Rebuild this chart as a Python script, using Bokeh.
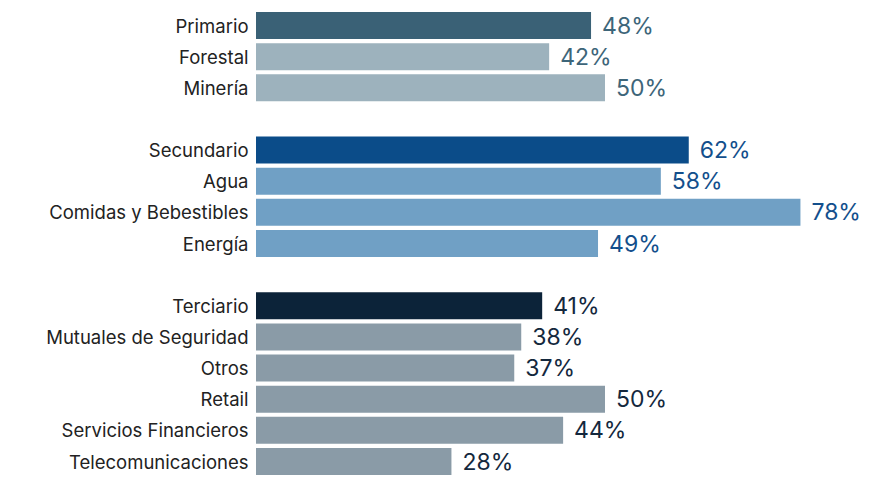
from bokeh.plotting import figure
from bokeh.models import ColumnDataSource, Range1d
from bokeh.embed import file_html
from bokeh.resources import INLINE
from bokeh.core.properties import value

# Data
categories = ["Primario", "Forestal", "Minería",
              "Secundario", "Agua", "Comidas y Bebestibles", "Energía",
              "Terciario", "Mutuales de Seguridad", "Otros", "Retail",
              "Servicios Financieros", "Telecomunicaciones"]
values = [48, 42, 50, 62, 58, 78, 49, 41, 38, 37, 50, 44, 28]
groups = [0, 0, 0, 1, 1, 1, 1, 2, 2, 2, 2, 2, 2]
is_total = [True, False, False, True, False, False, False, True, False, False, False, False, False]

# Styles per group
total_colors = ["#3a6176", "#0b4c89", "#0c2339"]
sub_colors = ["#9db2bd", "#70a0c5", "#8a9ba7"]
label_colors = ["#3d6579", "#134f8c", "#14283d"]

# Row positions: one empty row between groups
rows = []
r = 0
prev = groups[0]
for g in groups:
    if g != prev:
        r += 1
        prev = g
    rows.append(r)
    r += 1

bar_colors = [total_colors[g] if t else sub_colors[g] for g, t in zip(groups, is_total)]
txt_colors = [label_colors[g] for g in groups]
pct = [f"{v}%" for v in values]

src = ColumnDataSource(dict(cat=categories, val=values, y=rows, color=bar_colors,
                            tcolor=txt_colors, pct=pct))

W, H = 876, 478
slope = 6.98
x0 = 255.5
x_range = Range1d(-x0 / slope, (W - x0) / slope)
first_c, last_c = 25.0, 461.0
dy = (last_c - first_c) / rows[-1]
y_range = Range1d(rows[-1] + (H - last_c) / dy, -first_c / dy)

p = figure(width=W, height=H, x_range=x_range, y_range=y_range,
           output_backend="svg", toolbar_location=None, min_border=0,
           outline_line_color=None)
p.axis.visible = False
p.grid.visible = False
p.background_fill_color = "white"

p.hbar(y="y", left=0, right="val", height=27 / dy, color="color", source=src,
       line_color=None)

p.text(x=-7.5 / slope, y="y", text="cat", source=src, text_align="right",
       text_baseline="middle", text_font=value("Inter"), text_font_size="18.5px",
       text_color="#222222")

src2 = ColumnDataSource(dict(x=[v + 11 / slope for v in values], y=rows, pct=pct,
                             tcolor=txt_colors))
p.text(x="x", y="y", text="pct", source=src2, text_align="left",
       text_baseline="middle", text_font=value("Inter"), text_font_size="23px",
       text_color="tcolor")

open("out.html", "w").write(file_html(p, INLINE))
